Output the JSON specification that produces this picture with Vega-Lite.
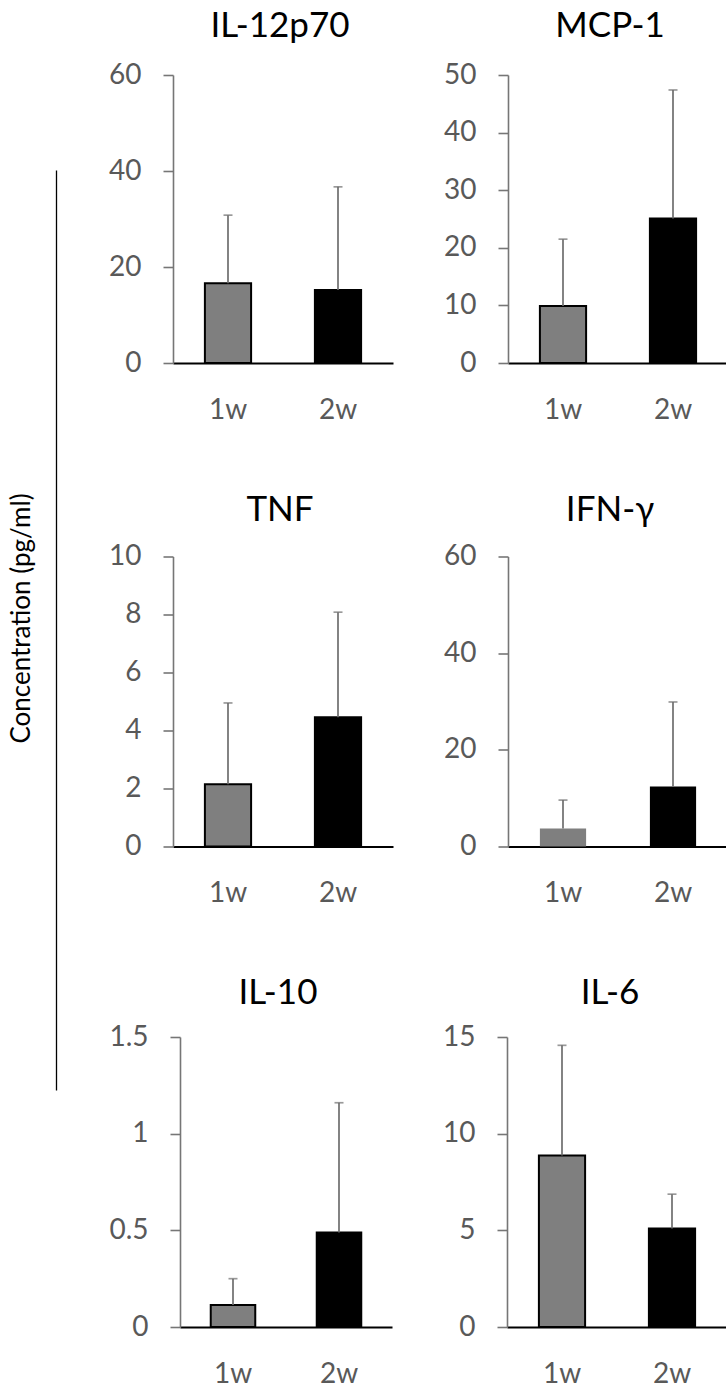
{
  "$schema": "https://vega.github.io/schema/vega-lite/v6.json",
  "padding": {"left": 8, "top": 8, "right": 0, "bottom": 0},
  "data": {"values": [
    {"panel": "IL-12p70", "week": "1w", "value": 16.6, "upper": 30.8},
    {"panel": "IL-12p70", "week": "2w", "value": 15.2, "upper": 36.7},
    {"panel": "MCP-1", "week": "1w", "value": 9.9, "upper": 21.5},
    {"panel": "MCP-1", "week": "2w", "value": 25.1, "upper": 47.4},
    {"panel": "TNF", "week": "1w", "value": 2.15, "upper": 4.95},
    {"panel": "TNF", "week": "2w", "value": 4.46, "upper": 8.08},
    {"panel": "IFN-γ", "week": "1w", "value": 3.7, "upper": 9.6},
    {"panel": "IFN-γ", "week": "2w", "value": 12.4, "upper": 29.9},
    {"panel": "IL-10", "week": "1w", "value": 0.114, "upper": 0.25},
    {"panel": "IL-10", "week": "2w", "value": 0.489, "upper": 1.16},
    {"panel": "IL-6", "week": "1w", "value": 8.87, "upper": 14.57},
    {"panel": "IL-6", "week": "2w", "value": 5.09, "upper": 6.87}
  ]},
  "config": {
    "font": "Lato",
    "view": {"stroke": null},
    "axisX": {"domainColor": "#000000", "domainWidth": 2, "ticks": false, "tickSize": 0, "labelFontSize": 28, "labelColor": "#595959", "labelPadding": 55, "labelBaseline": "alphabetic", "labelAngle": 0, "grid": false},
    "axisY": {"domainColor": "#767676", "domainWidth": 1.6, "tickColor": "#767676", "tickWidth": 1.6, "tickSize": 10, "labelFontSize": 28, "labelColor": "#595959", "labelPadding": 22, "grid": false, "format": "~f"},
    "title": {"fontSize": 35, "fontWeight": "normal", "color": "#000000", "baseline": "alphabetic", "frame": "group", "anchor": "middle"}
  },
  "spacing": 0,
  "hconcat": [
    {
      "spacing": 10,
      "vconcat": [
        {"width": 1, "height": 85, "data": {"values": []}, "mark": "point"},
        {"width": 1, "height": 920, "data": {"values": [{"v": 0}, {"v": 1}]},
         "mark": {"type": "rule", "opacity": 0},
         "encoding": {"y": {"field": "v", "type": "quantitative", "scale": {"domain": [0, 1], "nice": false},
           "axis": {"domainColor": "#000000", "domainWidth": 1.3, "ticks": false, "labels": false, "title": "Concentration (pg/ml)", "titleFontSize": 26, "titleFontWeight": "normal", "titleColor": "#000000", "titlePadding": 22, "titleY": 448}}}}
      ]
    },
    {
      "spacing": 68.5,
      "vconcat": [
        {
          "spacing": 50,
          "hconcat": [
            {"width": 1, "height": 1, "data": {"values": []}, "mark": "point"},
            {
              "width": 220, "height": 288,
              "title": {"text": "IL-12p70", "offset": 17.5, "dx": -3},
              "transform": [{"filter": "datum.panel === 'IL-12p70'"}],
              "encoding": {"x": {"field": "week", "type": "nominal", "title": null, "scale": {"paddingInner": 0.58, "paddingOuter": 0.29}}},
              "layer": [
                {"mark": {"type": "bar", "stroke": "#000000", "strokeWidth": 2},
                 "encoding": {"y": {"field": "value", "type": "quantitative", "title": null, "scale": {"domain": [0, 60], "nice": false}, "axis": {"values": [0, 20, 40, 60]}},
                   "color": {"field": "week", "type": "nominal", "scale": {"domain": ["1w", "2w"], "range": ["#7f7f7f", "#000000"]}, "legend": null}}},
                {"mark": {"type": "rule", "color": "#6e6e6e", "strokeWidth": 1.7},
                 "encoding": {"y": {"field": "value", "type": "quantitative", "title": null}, "y2": {"field": "upper"}}},
                {"mark": {"type": "tick", "color": "#6e6e6e", "thickness": 1.7, "size": 9},
                 "encoding": {"y": {"field": "upper", "type": "quantitative", "title": null}}}
              ]
            },
            {
              "width": 220, "height": 288,
              "title": {"text": "MCP-1", "offset": 17, "dx": -8},
              "transform": [{"filter": "datum.panel === 'MCP-1'"}],
              "encoding": {"x": {"field": "week", "type": "nominal", "title": null, "scale": {"paddingInner": 0.58, "paddingOuter": 0.29}}},
              "layer": [
                {"mark": {"type": "bar", "stroke": "#000000", "strokeWidth": 2},
                 "encoding": {"y": {"field": "value", "type": "quantitative", "title": null, "scale": {"domain": [0, 50], "nice": false}, "axis": {"values": [0, 10, 20, 30, 40, 50]}},
                   "color": {"field": "week", "type": "nominal", "scale": {"domain": ["1w", "2w"], "range": ["#7f7f7f", "#000000"]}, "legend": null}}},
                {"mark": {"type": "rule", "color": "#6e6e6e", "strokeWidth": 1.7},
                 "encoding": {"y": {"field": "value", "type": "quantitative", "title": null}, "y2": {"field": "upper"}}},
                {"mark": {"type": "tick", "color": "#6e6e6e", "thickness": 1.7, "size": 9},
                 "encoding": {"y": {"field": "upper", "type": "quantitative", "title": null}}}
              ]
            }
          ]
        },
        {
          "spacing": 50,
          "hconcat": [
            {"width": 1, "height": 1, "data": {"values": []}, "mark": "point"},
            {
              "width": 220, "height": 290,
              "title": {"text": "TNF", "offset": 15, "dx": -3},
              "transform": [{"filter": "datum.panel === 'TNF'"}],
              "encoding": {"x": {"field": "week", "type": "nominal", "title": null, "scale": {"paddingInner": 0.58, "paddingOuter": 0.29}}},
              "layer": [
                {"mark": {"type": "bar", "stroke": "#000000", "strokeWidth": 2},
                 "encoding": {"y": {"field": "value", "type": "quantitative", "title": null, "scale": {"domain": [0, 10], "nice": false}, "axis": {"values": [0, 2, 4, 6, 8, 10]}},
                   "color": {"field": "week", "type": "nominal", "scale": {"domain": ["1w", "2w"], "range": ["#7f7f7f", "#000000"]}, "legend": null}}},
                {"mark": {"type": "rule", "color": "#6e6e6e", "strokeWidth": 1.7},
                 "encoding": {"y": {"field": "value", "type": "quantitative", "title": null}, "y2": {"field": "upper"}}},
                {"mark": {"type": "tick", "color": "#6e6e6e", "thickness": 1.7, "size": 9},
                 "encoding": {"y": {"field": "upper", "type": "quantitative", "title": null}}}
              ]
            },
            {
              "width": 220, "height": 290,
              "title": {"text": "IFN-γ", "offset": 15, "dx": -8},
              "transform": [{"filter": "datum.panel === 'IFN-γ'"}],
              "encoding": {"x": {"field": "week", "type": "nominal", "title": null, "scale": {"paddingInner": 0.58, "paddingOuter": 0.29}}},
              "layer": [
                {"mark": {"type": "bar", "strokeWidth": 0},
                 "encoding": {"y": {"field": "value", "type": "quantitative", "title": null, "scale": {"domain": [0, 60], "nice": false}, "axis": {"values": [0, 20, 40, 60]}},
                   "color": {"field": "week", "type": "nominal", "scale": {"domain": ["1w", "2w"], "range": ["#7f7f7f", "#000000"]}, "legend": null}}},
                {"mark": {"type": "rule", "color": "#6e6e6e", "strokeWidth": 1.7},
                 "encoding": {"y": {"field": "value", "type": "quantitative", "title": null}, "y2": {"field": "upper"}}},
                {"mark": {"type": "tick", "color": "#6e6e6e", "thickness": 1.7, "size": 9},
                 "encoding": {"y": {"field": "upper", "type": "quantitative", "title": null}}}
              ]
            }
          ]
        },
        {
          "spacing": 50,
          "hconcat": [
            {"width": 1, "height": 1, "data": {"values": []}, "mark": "point"},
            {
              "width": 212, "height": 290,
              "title": {"text": "IL-10", "offset": 12, "dx": -8},
              "transform": [{"filter": "datum.panel === 'IL-10'"}],
              "encoding": {"x": {"field": "week", "type": "nominal", "title": null, "scale": {"paddingInner": 0.58, "paddingOuter": 0.29}}},
              "layer": [
                {"mark": {"type": "bar", "stroke": "#000000", "strokeWidth": 2},
                 "encoding": {"y": {"field": "value", "type": "quantitative", "title": null, "scale": {"domain": [0, 1.5], "nice": false}, "axis": {"values": [0, 0.5, 1, 1.5]}},
                   "color": {"field": "week", "type": "nominal", "scale": {"domain": ["1w", "2w"], "range": ["#7f7f7f", "#000000"]}, "legend": null}}},
                {"mark": {"type": "rule", "color": "#6e6e6e", "strokeWidth": 1.7},
                 "encoding": {"y": {"field": "value", "type": "quantitative", "title": null}, "y2": {"field": "upper"}}},
                {"mark": {"type": "tick", "color": "#6e6e6e", "thickness": 1.7, "size": 9},
                 "encoding": {"y": {"field": "upper", "type": "quantitative", "title": null}}}
              ]
            },
            {
              "width": 220, "height": 290,
              "title": {"text": "IL-6", "offset": 12, "dx": -7},
              "transform": [{"filter": "datum.panel === 'IL-6'"}],
              "encoding": {"x": {"field": "week", "type": "nominal", "title": null, "scale": {"paddingInner": 0.58, "paddingOuter": 0.29}}},
              "layer": [
                {"mark": {"type": "bar", "stroke": "#000000", "strokeWidth": 2},
                 "encoding": {"y": {"field": "value", "type": "quantitative", "title": null, "scale": {"domain": [0, 15], "nice": false}, "axis": {"values": [0, 5, 10, 15]}},
                   "color": {"field": "week", "type": "nominal", "scale": {"domain": ["1w", "2w"], "range": ["#7f7f7f", "#000000"]}, "legend": null}}},
                {"mark": {"type": "rule", "color": "#6e6e6e", "strokeWidth": 1.7},
                 "encoding": {"y": {"field": "value", "type": "quantitative", "title": null}, "y2": {"field": "upper"}}},
                {"mark": {"type": "tick", "color": "#6e6e6e", "thickness": 1.7, "size": 9},
                 "encoding": {"y": {"field": "upper", "type": "quantitative", "title": null}}}
              ]
            }
          ]
        }
      ]
    }
  ]
}
